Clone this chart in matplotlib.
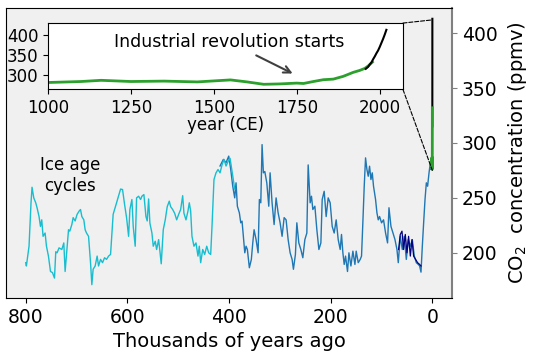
import matplotlib.pyplot as plt
from matplotlib.patches import ConnectionPatch

# --- ice core data (thousands of years ago, ppmv) ---
domec_ka = [800.0, 798.7, 793.5, 789.6, 787.6, 784.2, 780.3, 777.7, 773.8, 771.0,
            768.5, 765.9, 761.9, 759.2, 755.3, 751.3, 747.4, 743.4, 740.9, 738.3,
            734.4, 729.0, 725.1, 722.5, 715.8, 713.3, 709.3, 706.7, 702.8, 698.9,
            694.9, 692.2, 689.6, 685.7, 683.1, 680.4, 676.4, 672.5, 669.9, 667.4,
            663.4, 659.5, 656.7, 652.8, 648.9, 644.9, 641.0, 637.0, 633.1, 628.0,
            621.3, 613.4, 609.5, 605.5, 601.6, 597.6, 595.1, 591.1, 588.5, 584.6,
            581.9, 577.9, 574.0, 571.4, 567.5, 563.5, 561.0, 558.2, 555.7, 551.7,
            549.1, 545.2, 542.5, 538.5, 536.0, 533.4, 529.4, 525.5, 521.6, 517.6,
            514.9, 510.9, 507.0, 503.0, 499.1, 495.2, 491.2, 488.7, 484.7, 480.8,
            478.2, 475.5, 472.9, 469.0, 465.0, 461.1, 458.5, 455.8, 451.8, 447.9,
            443.9, 440.0, 436.1, 433.5, 429.6, 425.6, 421.7, 417.7, 413.8, 409.8,
            405.9, 402.0, 398.0, 392.7, 388.8]
domec_co2 = [191, 188, 206, 245.5, 259.7, 250, 245.5, 241, 233, 224,
             230, 215, 218, 206, 197, 183, 182, 177, 201, 200,
             204.5, 203, 209, 183, 221, 219.7, 225.7, 232, 229, 235,
             238, 239.4, 233, 230, 221, 218, 215, 191, 171, 185,
             188, 197, 188, 194, 191, 195.5, 194, 197, 198.5, 235,
             245.5, 258, 257.6, 244, 232, 215, 239.4, 248.5, 224, 206,
             250, 251.5, 248.5, 251.5, 253, 233, 229, 249, 227, 218,
             206, 210.5, 203, 212, 201.5, 190, 221, 230, 242, 247,
             242, 239.4, 236, 230, 235, 239.4, 252, 236, 230, 238,
             245.5, 238, 215, 206, 209, 197, 206, 191, 203, 198.5,
             206, 200, 198.5, 224, 266.7, 272.8, 275.8, 272.8, 280, 285,
             279, 283, 286, 270, 258]

vostok_ka = [417.7, 411.2, 405.9, 400.6, 396.6, 392.7, 388.8, 386.2, 383.6, 379.7,
             376.9, 374.4, 371.8, 369.0, 366.5, 363.9, 360.0, 356.1, 353.3, 350.7,
             346.8, 342.8, 340.3, 337.5, 335.0, 332.4, 329.6, 325.7, 321.8, 319.2,
             315.3, 311.3, 307.4, 303.4, 299.5, 295.6, 291.6, 287.7, 283.7, 279.8,
             275.9, 273.3, 269.4, 266.6, 262.7, 258.7, 254.8, 250.8, 246.9, 244.3,
             240.4, 237.8, 235.1, 231.1, 227.2, 223.2, 219.3, 216.7, 212.8, 208.9,
             204.9, 201.0, 197.0, 193.1, 189.2, 185.2, 181.3, 178.7, 176.0, 173.4,
             170.8, 166.9, 164.1, 160.2, 156.3, 152.3, 149.8, 145.8, 141.9, 139.3,
             136.5, 134.0, 131.4, 128.7, 126.1, 123.5, 120.8, 118.2, 115.7, 111.7,
             109.0, 106.4, 103.8, 99.9, 96.0, 92.0, 88.1, 85.3, 81.4, 77.4,
             73.5, 69.6, 67.0, 63.1, 59.1, 55.2, 51.2, 47.3, 43.3, 39.4,
             35.5, 31.5, 27.6, 25.0, 22.3, 19.7, 17.1, 14.4, 11.8, 9.3,
             6.5, 3.9, 2.6, 1.0]
vostok_co2 = [279, 285, 282, 288, 275.8, 260.6, 250, 263.7, 242.4, 236.4,
              227.3, 228.8, 215, 200, 206, 203, 186.4, 194, 209, 221,
              212, 200, 248.5, 245.5, 298.5, 272.8, 274, 263.7, 242.4, 272.8,
              245.5, 225.7, 250, 236.4, 227.3, 215, 232, 230, 212, 200,
              194, 185, 198.5, 227.3, 209, 203, 195.5, 212, 218, 280,
              245.5, 251.5, 239.4, 242.4, 221, 203, 209, 248.5, 256, 233,
              250, 245.5, 224, 218, 230, 212, 203, 216.7, 200, 189.4,
              197, 183, 200, 188, 201.5, 189.4, 201.5, 191, 194, 197,
              230, 260.6, 286.4, 275.8, 269.7, 278.8, 266.7, 272.8, 260.6, 248.5,
              236.4, 230, 233, 227.3, 230, 218, 209, 241, 224, 218,
              212, 203, 191, 215, 203, 215, 194, 212, 206, 212,
              197, 191, 189.4, 188, 182.4, 206, 227.3, 248.5, 263.7, 260.6,
              272.8, 282, 275.8, 279]

other_ka = [66.4, 63.1, 59.7, 56.6, 53.2, 49.9, 46.7, 43.3, 40.0, 36.8,
            32.9, 29.0, 25.0, 22.3]
other_co2 = [203, 216.7, 219.7, 203, 216.7, 200, 215, 197, 212, 197,
             194, 191, 189.4, 188]

# --- last millennium (year CE, ppmv) ---
lawdome_year = [1000, 1100, 1160, 1250, 1350, 1450, 1550, 1600, 1650, 1700,
                1750, 1770, 1800, 1830, 1860, 1890, 1920, 1940, 1955, 1965, 1978]
lawdome_co2 = [280.5, 283, 286, 283, 284, 282, 287, 282, 276, 277,
               279, 278, 283, 287.5, 289, 296, 306, 311, 316, 322, 332]
maunaloa_year = [1958, 1965, 1970, 1975, 1980, 1985, 1990, 1995, 2000, 2005,
                 2010, 2015, 2020]
maunaloa_co2 = [315, 320, 326, 331, 339, 346, 354, 361, 370, 380,
                390, 401, 413]

lawdome_ka = [(1950 - y) / 1000 for y in lawdome_year]
maunaloa_ka = [(1950 - y) / 1000 for y in maunaloa_year]

fig = plt.figure(figsize=(5.37, 3.55), dpi=100)
ax = fig.add_axes([0.011, 0.161, 0.831, 0.817])
ax.set_facecolor('#f0f0f0')

ax.plot(vostok_ka, vostok_co2, color='#1f77b4', lw=1)
ax.plot(domec_ka, domec_co2, color='#17becf', lw=1)
ax.plot(other_ka, other_co2, color='navy', lw=0.9)
ax.plot(maunaloa_ka, maunaloa_co2, color='black', lw=1.5)
ax.plot(lawdome_ka, lawdome_co2, color='#2ca02c', lw=2)

ax.set_xlim(839, -39)
ax.set_ylim(159, 423)
ax.set_xticks([800, 600, 400, 200, 0])
ax.set_yticks([200, 250, 300, 350, 400])
ax.yaxis.tick_right()
ax.yaxis.set_label_position('right')
ax.spines['right'].set_color('gray')
ax.spines['right'].set_linewidth(1.5)
ax.tick_params(axis='y', colors='gray', labelcolor='black', labelsize=13.5)
ax.tick_params(axis='x', labelsize=13.5)
ax.set_xlabel("Thousands of years ago", fontsize=14)
ax.set_ylabel("CO$_2$  concentration (ppmv)", fontsize=14, labelpad=6)
ax.text(713, 270, "Ice age\ncycles", ha='center', va='center', fontsize=12)

# --- inset ---
axin = fig.add_axes([0.0894, 0.748, 0.661, 0.187])
axin.plot(lawdome_year, lawdome_co2, color='#2ca02c', lw=2)
axin.plot(maunaloa_year, maunaloa_co2, color='black', lw=1.5)
axin.set_xlim(1000, 2070)
axin.set_ylim(263, 430)
axin.set_xticks([1000, 1250, 1500, 1750, 2000])
axin.set_yticks([300, 350, 400])
axin.tick_params(labelsize=12)
axin.set_xlabel("year (CE)", fontsize=12, labelpad=-1)
axin.annotate("Industrial revolution starts", xy=(1745, 300), xytext=(1545, 383),
              ha='center', va='center', fontsize=12.5,
              arrowprops=dict(arrowstyle='->', color='#404040', lw=1.5, shrinkA=3))

for yin, ymain in [(1, 412), (0, 275)]:
    con = ConnectionPatch(xyA=(1, yin), coordsA=axin.transAxes,
                          xyB=(0, ymain), coordsB=ax.transData,
                          color='black', lw=0.8, ls='--')
    fig.add_artist(con)

plt.savefig("out.png", dpi=100)
